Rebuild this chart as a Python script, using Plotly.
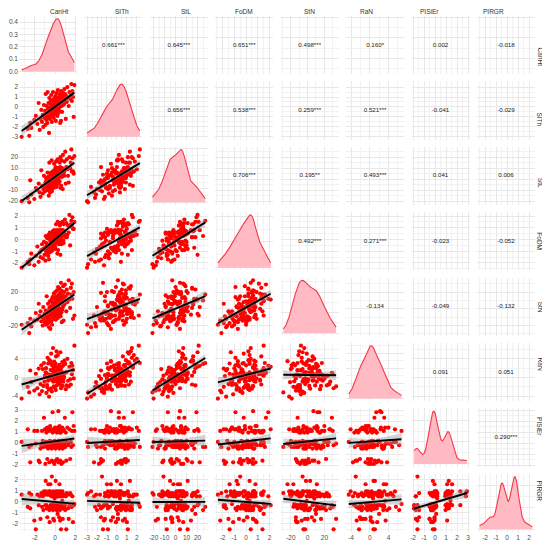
import numpy as np
import plotly.graph_objects as go
from plotly.subplots import make_subplots

names = ["CanHt", "SITh", "StL", "FoDM", "StN", "RaN", "PISiEr", "PIRGR"]

# one value per sampled plant, same order in every list
canht = [-3.3, -2.7, -2.55, -2.45, -2.35, -2.05, -1.9, -1.75, -1.62, -1.52,
         -1.44, -1.36, -1.29, -1.22, -1.16, -1.1, -1.05, -1.0, -0.96, -0.93,
         -0.89, -0.86, -0.83, -0.79, -0.77, -0.74, -0.7, -0.68, -0.65, -0.62,
         -0.6, -0.57, -0.54, -0.52, -0.49, -0.47, -0.44, -0.41, -0.39, -0.37,
         -0.34, -0.32, -0.3, -0.27, -0.25, -0.23, -0.21, -0.18, -0.16, -0.14,
         -0.12, -0.1, -0.08, -0.07, -0.05, -0.03, -0.01, 0.01, 0.03, 0.05,
         0.07, 0.09, 0.1, 0.12, 0.14, 0.16, 0.18, 0.2, 0.22, 0.23,
         0.25, 0.27, 0.29, 0.31, 0.32, 0.34, 0.36, 0.38, 0.4, 0.41,
         0.43, 0.45, 0.47, 0.49, 0.5, 0.52, 0.54, 0.56, 0.58, 0.6,
         0.62, 0.64, 0.66, 0.68, 0.7, 0.72, 0.75, 0.77, 0.8, 0.83,
         0.86, 0.89, 0.92, 0.96, 1.0, 1.05, 1.1, 1.15, 1.21, 1.27,
         1.34, 1.41, 1.48, 1.55, 1.6, 1.65, 1.7, 1.76, 1.83, 1.9]
sith = [-3.0, -2.2, -2.9, -1.6, -2.1, -1.3, -0.9, -1.7, 0.4, -2.3,
        -1.2, -0.3, -1.5, -0.8, -2.0, 0.2, -1.1, -0.4, -1.8, 1.3,
        -0.9, -1.3, 0.1, -0.7, -1.6, 1.5, -0.2, -1.0, 0.4, -0.5,
        -2.6, 0.9, -0.1, -1.2, 0.3, -0.6, 0.6, -0.9, 1.2, -0.3,
        0.0, -1.5, 0.7, -0.4, 0.2, -0.8, 1.5, 0.1, -0.2, -1.1,
        0.5, -0.6, 0.9, -0.1, 0.3, -0.7, 0.8, -0.3, 1.1, 0.0,
        -1.4, 0.6, 0.2, -0.5, 1.4, 0.4, -0.2, 0.9, -0.9, 0.5,
        0.1, 1.7, -0.1, 0.7, -0.6, 0.3, 1.0, 0.2, -0.4, 0.8,
        0.4, 1.3, 0.0, 0.6, -1.6, 1.1, 0.3, 0.7, -1.4, 1.6,
        0.5, 0.1, 0.9, -0.5, 1.2, 0.4, 0.8, 0.2, 1.4, 0.6,
        1.0, 0.3, 1.8, 0.7, 1.3, -1.2, 1.1, 0.5, 2.0, 0.9,
        0.1, 1.5, 0.8, 1.2, 2.3, 0.6, 1.6, 1.0, -1.0, 2.2]
stl = [-20, -17, -21, -1, -14, -18, -8, -10, -4, -12,
       -16, 8, -6, -13, -9, 3, -7, -11, -3, -5,
       1, -2, -1, -8, -4, 6, -10, 2, -6, -15,
       -7, 15, -3, 0, -12, 4, -2, -9, 6, -5,
       17, -11, 1, -1, -7, 3, 7, -4, 7, -8,
       0, 14, -3, 5, 2, -6, 9, -2, 4, 11,
       -5, 16, -1, 6, 3, -7, 8, 1, 8, -3,
       18, 7, 0, 10, 4, -4, 5, 5, 2, 9,
       -2, 15, 6, 3, 11, 20, -8, 8, 4, -6,
       7, 17, 2, 10, 5, 4, -9, 22, 9, 6,
       6, 3, 16, 8, 25, -4, 11, 18, 9, 3,
       -3, 20, 10, 15, 27, 7, 19, 7, 5, 21]
fodm = [-2.4, -1.9, -2.1, -1.7, -1.2, -2.2, -1.4, -0.6, -1.9, -1.1,
        -1.5, -0.9, -0.4, -1.6, -0.8, -0.2, -1.3, -0.7, -1.8, 0.3,
        -1.0, -0.3, -0.5, -1.2, 0.1, -0.9, -0.6, -1.4, 0.4, -0.8,
        -1.7, 0.2, -1.1, 0.6, -0.1, -0.7, -0.3, 0.5, -0.2, -1.0,
        -0.7, -0.5, 0.0, 0.3, -0.9, 0.7, 0.4, -0.6, 0.7, -0.1,
        0.2, 0.8, -0.4, 0.6, 0.1, -0.2, -0.6, 0.5, -0.3, -0.8,
        0.3, 1.3, -0.1, 0.7, 0.2, 0.0, 0.8, 0.6, 0.4, -1.2,
        1.5, 0.3, -0.9, -0.2, 0.6, 0.5, -0.4, 1.4, 0.1, 0.7,
        0.8, 0.2, 1.2, -0.2, 0.5, -1.3, 0.1, 1.4, 0.4, 0.6,
        -0.4, 0.8, 0.0, 0.7, 0.3, 1.5, 0.6, 0.8, -0.1, -0.3,
        1.3, 0.5, 0.7, 1.7, 0.3, 0.2, 1.4, 0.2, 0.4, 1.2,
        0.6, 2.1, -0.5, 1.3, 1.6, 1.1, 1.9, 0.9, 0.9, 1.5]
stn = [-19, -17, -29, -12, -21, -14, -5, -13, 6, -8,
       -3, -15, -10, -20, 2, -12, -6, -16, -9, -2,
       -19, -4, 15, -11, -14, -7, 6, -17, -3, -9,
       -22, 1, -13, 9, -5, -24, -8, 3, -1, -15,
       11, -6, -19, 7, 14, -10, -4, 0, 2, -12,
       18, -7, 5, -2, 8, -9, 12, 20, -5, 3,
       -13, 6, 15, -1, -10, 9, -8, 22, 4, -3,
       10, -11, 26, 2, 7, 13, -6, 17, 5, -2,
       11, 24, 0, 8, 19, -6, -9, 14, 31, 6,
       -4, 12, -16, 21, -1, 9, 16, 2, 27, -14,
       13, 20, 5, 29, 10, 15, -3, 23, 8, 18,
       34, 11, 1, 25, 17, 30, 12, -12, 20, -8]
ran = [-4.5, -2.0, -3.2, 1.5, -1.0, -2.8, 0.8, -2.3, 1.9, -3.6,
       -1.4, 2.6, -2.9, 1.8, -1.8, 3.1, -0.9, 0.4, 0.3, 1.1,
       2.0, -3.3, 0.9, -1.6, -2.1, 4.2, -0.7, 3.0, -0.2, -2.6,
       -4.1, 3.7, 0.6, 0.5, -0.4, 3.5, 1.6, -2.4, 5.1, 0.2,
       2.8, -3.0, 2.6, -0.6, 1.4, 0.5, 6.3, -0.9, 1.9, -1.9,
       0.1, 3.4, 1.2, -0.3, 0.7, -2.2, 2.4, -0.2, 3.0, 0.8,
       -2.7, 4.5, -0.4, -0.8, 5.6, -1.7, 1.5, 0.3, 0.6, -0.6,
       2.0, 4.8, -1.4, 1.0, 2.2, -0.1, 1.8, 0.6, 0.2, 2.7,
       -0.9, 0.4, -0.5, 0.2, -0.3, 5.4, -1.6, 1.4, -2.3, 2.1,
       0.9, 1.2, -0.8, 0.4, 3.3, 0.4, -1.8, 2.5, -0.9, -0.2,
       0.8, 0.1, 3.6, 1.0, 2.9, -2.5, 1.1, -1.7, 4.0, -0.7,
       -1.9, 2.3, -0.4, -1.5, 3.1, 0.7, 2.5, 1.6, -0.2, 6.8]
pisier = [0.1, 1.25, -0.35, -1.75, -0.2, 1.1, -0.05, 1.1, -1.6, -1.75,
          -0.5, -0.2, 1.1, 0.2, -0.35, 2.3, -0.05, 1.25, -1.9, -0.2,
          0.1, 0.95, -0.35, 1.4, -1.45, -0.05, -0.5, 1.1, 0.1, -0.2,
          1.25, -1.75, -0.35, 0.2, 1.55, -0.05, -0.2, 1.1, 0.1, 1.25,
          -0.5, -1.6, -0.35, -0.05, 2.8, 0.95, -0.2, -1.75, 0.1, 1.25,
          -0.35, -0.05, 1.1, -1.9, 0.2, -0.2, 1.4, 0.1, -0.5, 1.25,
          -1.6, -0.05, -0.35, 1.1, 0.1, -0.2, 0.95, -1.45, -0.05, 1.4,
          0.1, -0.35, 1.25, -0.2, 2.9, -1.75, 0.2, 1.1, -0.05, -0.5,
          1.55, -0.2, 0.95, -1.6, -0.35, 1.25, -0.05, 0.95, -0.2, 0.1,
          -1.9, 1.1, -0.35, 0.2, 1.4, -0.05, -0.5, -1.75, 1.25, 0.1,
          -0.2, 1.1, -0.05, 2.3, -0.35, 0.95, -1.6, 0.1, 1.4, -0.2,
          -0.05, 1.25, -1.45, 0.1, -0.35, 1.1, 2.8, -0.2, 1.55, 1.1]
pirgr = [0.65, -0.45, 0.8, -0.6, 0.65, -1.7, -2.5, 0.65, -0.3, 0.5,
         -1.55, 0.8, -0.45, 0.5, -0.75, 0.95, 0.65, 0.8, -0.3, 1.9,
         0.95, -0.3, -0.6, 0.65, -1.4, -0.6, 0.8, 1.6, -0.45, 0.65,
         0.95, -0.75, -1.85, 0.8, 0.95, 1.6, -0.3, -0.6, 0.5, 0.8,
         -0.45, 2.3, 0.65, -0.2, 0.8, 0.5, -0.75, -1.55, 0.95, -0.3,
         0.65, -1.7, 0.8, -0.6, 0.3, -0.45, 0.65, 0.5, -0.3, 1.9,
         -0.45, 0.8, -0.6, 0.95, -0.45, -0.75, 0.8, -0.75, 0.5, -0.2,
         -1.1, 0.65, 0.5, -0.6, 0.95, -0.45, 0.8, 0.65, -1.4, -0.3,
         1.6, 0.5, -0.75, -1.7, -0.45, 0.95, -0.45, 0.65, -2.5, 0.5,
         -0.6, 0.8, -0.2, 0.65, 0.1, 0.95, -1.55, 0.5, -0.6, -0.3,
         -0.6, -0.45, 0.65, -0.3, -0.75, 0.5, -2.5, 0.8, 0.65, -0.6,
         -1.55, -0.3, 0.8, 0.65, -0.45, -0.45, 0.5, -1.85, -0.3, -0.2]

# axis breaks for each variable
ticks = [[-2, 0, 2], [-3, -2, -1, 0, 1, 2], [-20, -10, 0, 10, 20],
         [-2, -1, 0, 1, 2], [-20, 0, 20], [-4, 0, 4],
         [-2, -1, 0, 1, 2, 3], [-2, -1, 0, 1, 2]]
dens_ticks = [0.0, 0.1, 0.2, 0.3, 0.4]

# correlation labels of the upper panels, row by row
corr_labels = [
    ["0.661***", "0.645***", "0.651***", "0.498***", "0.160*", "0.002", "-0.018"],
    ["0.656***", "0.538***", "0.259***", "0.521***", "-0.041", "-0.029"],
    ["0.706***", "0.195**", "0.493***", "0.041", "0.006"],
    ["0.492***", "0.271***", "-0.023", "-0.052"],
    ["-0.134", "-0.049", "-0.132"],
    ["0.091", "0.051"],
    ["0.290***"],
]

data = [canht, sith, stl, fodm, stn, ran, pisier, pirgr]
nv = len(names)

GRID = "#E8E8E8"
MINOR = "#F2F2F2"
TXT = "#4D4D4D"
FONT = "Liberation Sans"


def kde(v):
    v = np.asarray(v, float)
    m = len(v)
    q75, q25 = np.percentile(v, [75, 25])
    bw = 0.9 * min(v.std(ddof=1), (q75 - q25) / 1.34) * m ** -0.2
    xs = np.linspace(v.min(), v.max(), 400)
    ys = np.exp(-0.5 * ((xs[:, None] - v[None, :]) / bw) ** 2).sum(1)
    ys = ys / (m * bw * np.sqrt(2 * np.pi))
    return xs, ys


def smooth(x, y):
    x = np.asarray(x, float)
    y = np.asarray(y, float)
    b, a = np.polyfit(x, y, 1)
    xs = np.linspace(x.min(), x.max(), 80)
    yh = a + b * xs
    res = y - (a + b * x)
    s = np.sqrt((res ** 2).sum() / (len(x) - 2))
    se = s * np.sqrt(1 / len(x) + (xs - x.mean()) ** 2 / ((x - x.mean()) ** 2).sum())
    return xs, yh, 1.98 * se


def rng(v):
    lo, hi = min(v), max(v)
    pad = 0.05 * (hi - lo)
    return [lo - pad, hi + pad]


def nice_step(top):
    raw = top / 4
    p = 10 ** np.floor(np.log10(raw))
    for f in [1, 2, 2.5, 5, 10]:
        if f * p >= raw:
            return f * p
    return 10 * p


fig = make_subplots(rows=nv, cols=nv, horizontal_spacing=0.0143, vertical_spacing=0.0142)

for i in range(nv):
    for j in range(nv):
        k = i * nv + j + 1
        xn = "xaxis" if k == 1 else "xaxis%d" % k
        yn = "yaxis" if k == 1 else "yaxis%d" % k

        xt = ticks[j]
        xstep = xt[1] - xt[0]
        xr = rng(data[j])
        fig.layout[xn].update(
            range=xr, tickmode="array", tickvals=xt, tickangle=0,
            ticktext=[str(t) for t in xt], showticklabels=(i == nv - 1),
            showgrid=True, gridcolor=GRID, gridwidth=1, zeroline=False,
            showline=False, ticks="", automargin=False,
            minor=dict(tick0=xt[0], dtick=xstep / 2, showgrid=True,
                       gridcolor=MINOR, gridwidth=0.6, ticks=""),
            tickfont=dict(size=6.5, color=TXT, family=FONT))

        if i == j:
            xs, ys = kde(data[i])
            top = ys.max()
            if i == 0:
                yt = dens_ticks
                ytxt = ["%.1f" % t for t in yt]
                ystep = 0.1
            else:
                ystep = nice_step(top)
                yt = list(np.arange(0, top * 1.05, ystep))
                ytxt = ["%g" % t for t in yt]
            yr = [-0.05 * top, 1.05 * top]
            fig.layout[yn].update(
                range=yr, tickmode="array",
                tickvals=yt, ticktext=ytxt, showticklabels=(j == 0),
                minor=dict(tick0=0, dtick=ystep / 2, showgrid=True,
                           gridcolor=MINOR, gridwidth=0.6, ticks=""))
            fig.add_trace(go.Scatter(
                x=xs, y=ys, mode="lines", fill="tozeroy",
                fillcolor="rgba(255,182,193,0.95)",
                line=dict(color="rgba(245,55,70,1)", width=1.1),
                hoverinfo="skip"), row=i + 1, col=j + 1)
        else:
            yt = ticks[i]
            ystep = yt[1] - yt[0]
            yr = rng(data[i])
            fig.layout[yn].update(
                range=yr, tickmode="array", tickvals=yt,
                ticktext=[str(t) for t in yt], showticklabels=(j == 0),
                minor=dict(tick0=yt[0], dtick=ystep / 2, showgrid=True,
                           gridcolor=MINOR, gridwidth=0.6, ticks=""))
        fig.layout[yn].update(
            showgrid=True, gridcolor=GRID, gridwidth=1, zeroline=False,
            showline=False, ticks="", automargin=False,
            tickfont=dict(size=6.5, color=TXT, family=FONT))

        if i > j:
            fig.add_trace(go.Scatter(
                x=data[j], y=data[i], mode="markers",
                marker=dict(color="#FF0000", size=4.2, line=dict(width=0)),
                hoverinfo="skip"), row=i + 1, col=j + 1)
            xs, yh, ci = smooth(data[j], data[i])
            fig.add_trace(go.Scatter(
                x=np.concatenate([xs, xs[::-1]]),
                y=np.concatenate([yh + ci, (yh - ci)[::-1]]),
                mode="lines", fill="toself", fillcolor="rgba(153,153,153,0.4)",
                line=dict(width=0), hoverinfo="skip"), row=i + 1, col=j + 1)
            fig.add_trace(go.Scatter(
                x=xs, y=yh, mode="lines", line=dict(color="black", width=1.9),
                hoverinfo="skip"), row=i + 1, col=j + 1)
        elif i < j:
            # correlation text in the middle of the panel
            fig.add_trace(go.Scatter(
                x=[(xr[0] + xr[1]) / 2], y=[(yr[0] + yr[1]) / 2],
                mode="text", text=[corr_labels[i][j - i - 1]],
                textfont=dict(size=6.2, color="#222222", family=FONT),
                hoverinfo="skip"), row=i + 1, col=j + 1)

# strip labels on top and right
for j in range(nv):
    k = j + 1
    dom = fig.layout["xaxis" if k == 1 else "xaxis%d" % k].domain
    fig.add_annotation(text=names[j], x=(dom[0] + dom[1]) / 2, y=1.0,
                       xref="paper", yref="paper", yanchor="bottom", yshift=-1,
                       showarrow=False, font=dict(size=6.5, color="#333333", family=FONT))
for i in range(nv):
    k = i * nv + 1
    dom = fig.layout["yaxis" if k == 1 else "yaxis%d" % k].domain
    fig.add_annotation(text=names[i], x=1.0, y=(dom[0] + dom[1]) / 2,
                       xref="paper", yref="paper", xanchor="center", xshift=5,
                       textangle=90, showarrow=False,
                       font=dict(size=6.5, color="#333333", family=FONT))

# the page puts the figure 8px in from the top-left corner
fig.update_layout(
    width=542, height=543, showlegend=False,
    margin=dict(l=11, r=15, t=8, b=19),
    paper_bgcolor="white", plot_bgcolor="white",
    font=dict(family=FONT, size=7, color=TXT))

fig.write_html("out.html")
